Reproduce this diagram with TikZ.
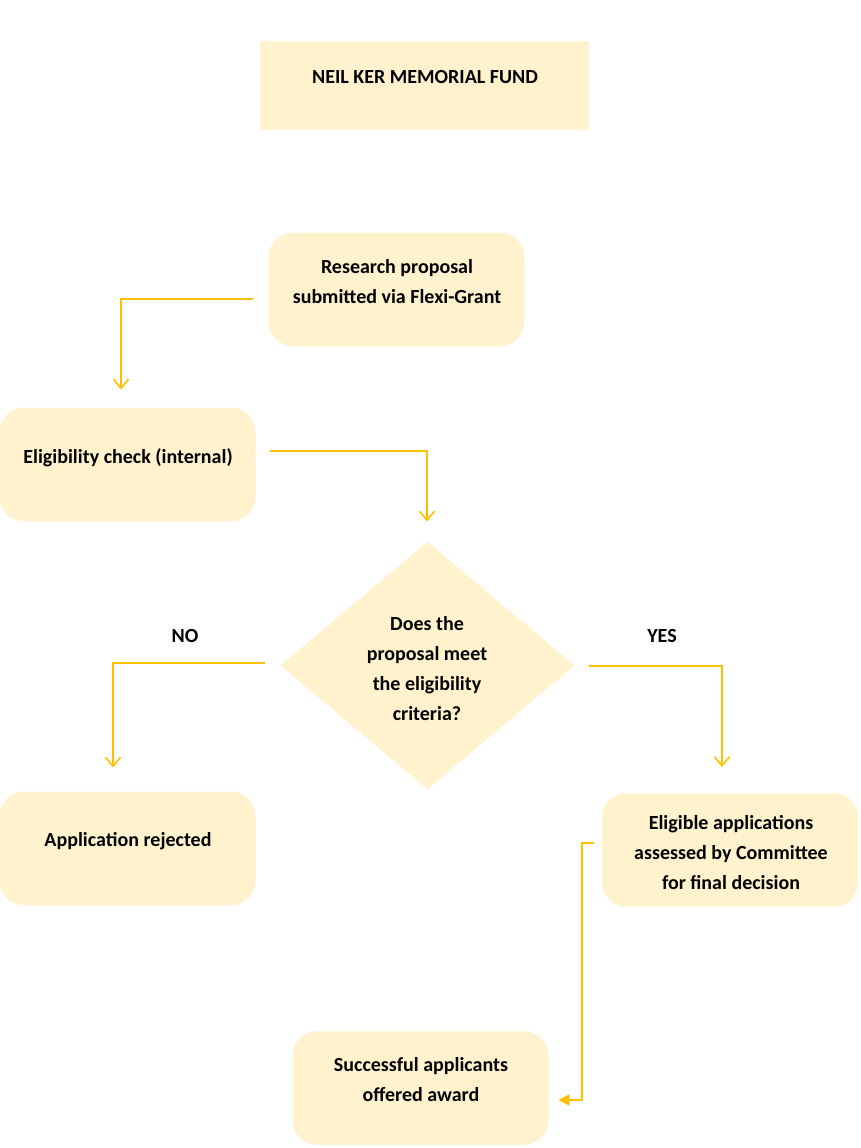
\documentclass[tikz,border=0pt]{standalone}
\usepackage{fontspec}
\setmainfont{Carlito}
\usetikzlibrary{arrows.meta,shapes.geometric,calc}
\definecolor{boxfill}{HTML}{FFF2CC}
\definecolor{boxline}{HTML}{FFF4D6}
\definecolor{arrowc}{HTML}{FFC000}
\begin{document}
\begin{tikzpicture}[x=1pt,y=-1pt,
  box/.style={draw=boxline,line width=1pt,fill=boxfill,inner sep=0pt},
  rbox/.style={box,rounded corners=24pt,minimum width=255pt,minimum height=113pt},
  txt/.style={align=center,font=\fontsize{20}{30}\selectfont\bfseries,inner sep=0pt},
  conn/.style={draw=arrowc,line width=1.6pt},
  barb/.style={-{Straight Barb[length=9pt,width=15pt,line width=1.6pt]}},
  tri/.style={-{Triangle[length=11pt,width=11pt]}}
]
\useasboundingbox (0,0) rectangle (860,1148);
% title
\node[box,minimum width=328pt,minimum height=87pt] (title) at (424,85.5) {};
\node[txt] (titlet) at (425,77) {NEIL KER MEMORIAL FUND};
% research proposal
\node[rbox] (rp) at (396.5,289.5) {};
\node[txt] (rpt) at (397,282) {Research proposal\\submitted via Flexi-Grant};
% eligibility check
\node[rbox] (ec) at (127.5,464.5) {};
\node[txt] (ect) at (128,458) {Eligibility check (internal)};
% diamond
\node[draw=boxline,line width=1pt,fill=boxfill,diamond,inner sep=0pt,minimum width=293pt,minimum height=247pt] (dm) at (427.5,665.5) {};
\node[txt] (dmt) at (427,668.5) {Does the\\proposal meet\\the eligibility\\criteria?};
% labels
\node[txt] (no) at (185,636) {NO};
\node[txt] (yes) at (662,636) {YES};
% rejected
\node[rbox] (ar) at (127.5,848.5) {};
\node[txt] (art) at (128,841) {Application rejected};
% eligible
\node[rbox] (ea) at (730,850) {};
\node[txt] (eat) at (731,853) {Eligible applications\\assessed by Committee\\for final decision};
% successful
\node[rbox] (sa) at (420.5,1088) {};
\node[txt] (sat) at (421,1080) {Successful applicants\\offered award};
% connector coordinates
\coordinate (c1s) at ($(rp.west)+(-16,9.5)$);
\coordinate (c1e) at ($(ec.north)+(-6.5,-18)$);
\coordinate (c2s) at ($(ec.east)+(14,-13.5)$);
\coordinate (c2e) at ($(dm.north)+(-0.5,-20)$);
\coordinate (c3s) at ($(dm.west)+(-16,-2.5)$);
\coordinate (c3e) at ($(ar.north)+(-14.5,-24)$);
\coordinate (c4s) at ($(dm.east)+(14,0.5)$);
\coordinate (c4e) at ($(ea.north)+(-8,-26)$);
\coordinate (c5s) at ($(ea.west)+(-8,-7)$);
\coordinate (c5e) at ($(sa.east)+(10,12)$);
\draw[conn,barb] (c1s) -| (c1e);
\draw[conn,barb] (c2s) -| (c2e);
\draw[conn,barb] (c3s) -| (c3e);
\draw[conn,barb] (c4s) -| (c4e);
\draw[conn,tri] (c5s) -- ++(-12,0) |- (c5e);
\end{tikzpicture}
\end{document}
